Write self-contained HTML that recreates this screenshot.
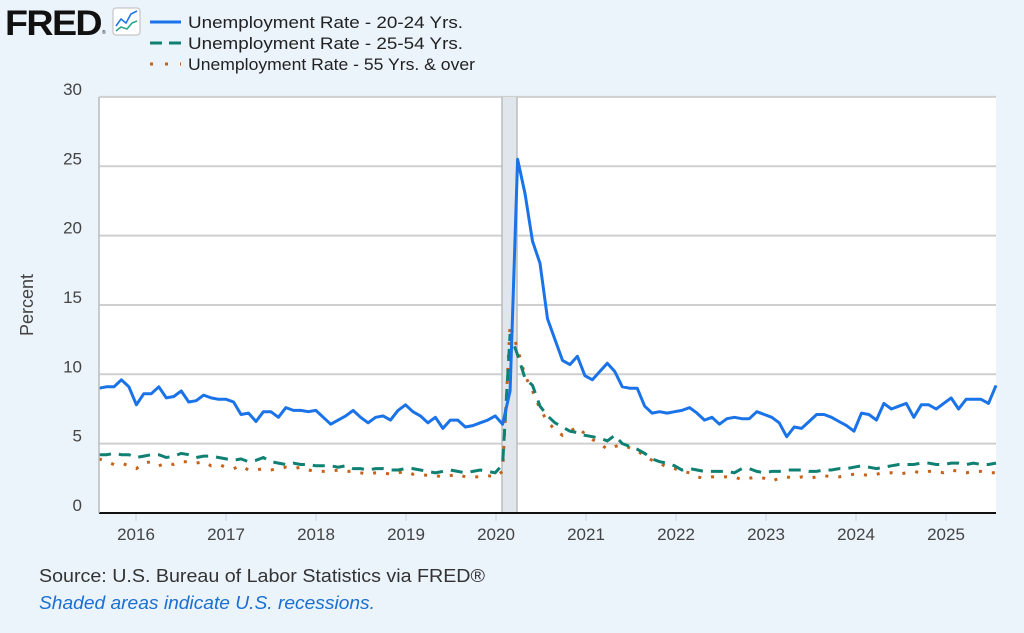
<!DOCTYPE html>
<html><head><meta charset="utf-8"><style>
html,body{margin:0;padding:0;background:#ebf3fb;}
body{width:1024px;height:633px;overflow:hidden;font-family:"Liberation Sans",sans-serif;}
</style></head><body>
<svg id="s" width="1024" height="633" xmlns="http://www.w3.org/2000/svg" style="position:absolute;left:0;top:0">
<text x="5" y="35" font-size="35" font-weight="bold" fill="#111" letter-spacing="-1.5" textLength="96" lengthAdjust="spacingAndGlyphs">FRED</text>
<text x="102" y="34" font-size="5" fill="#111">®</text>
<rect x="113" y="8" width="27" height="27" rx="3" fill="#fff" stroke="#bbb"/>
<polyline points="116,26 121,19 126,23 131,14 137,11" fill="none" stroke="#1f77e8" stroke-width="1.6"/>
<polyline points="116,31 121,27 127,29 132,23 137,21" fill="none" stroke="#2aa68a" stroke-width="1.6"/>
<line x1="150" y1="22" x2="181" y2="22" stroke="#1a73e8" stroke-width="3"/>
<line x1="150" y1="43" x2="181" y2="43" stroke="#0f8072" stroke-width="3" stroke-dasharray="12,7"/>
<line x1="150" y1="64" x2="181" y2="64" stroke="#c5621a" stroke-width="3" stroke-dasharray="3,12"/>
<g font-size="16.5" fill="#222" font-weight="500"><text x="188" y="28" textLength="275" lengthAdjust="spacingAndGlyphs">Unemployment Rate - 20-24 Yrs.</text>
<text x="188" y="49" textLength="275" lengthAdjust="spacingAndGlyphs">Unemployment Rate - 25-54 Yrs.</text>
<text x="188" y="70" textLength="287" lengthAdjust="spacingAndGlyphs">Unemployment Rate - 55 Yrs. &amp; over</text></g>
<rect x="99" y="97" width="897" height="416" fill="#fff"/>
<g id="grid"></g>
<rect x="502" y="97" width="15" height="416" fill="#e1e6ec"/>
<line x1="502" y1="97" x2="502" y2="513" stroke="#bbb" stroke-width="1.5"/>
<line x1="517" y1="97" x2="517" y2="513" stroke="#bbb" stroke-width="1.5"/>
<g id="lines"></g>
<line x1="99" y1="513" x2="996" y2="513" stroke="#111" stroke-width="2"/>
<line x1="99" y1="97" x2="99" y2="513" stroke="#bbb" stroke-width="1.5"/>
<text transform="translate(33,305) rotate(-90)" text-anchor="middle" font-size="18" fill="#444">Percent</text>
<text x="39" y="582" font-size="18" fill="#333" textLength="446" lengthAdjust="spacingAndGlyphs">Source: U.S. Bureau of Labor Statistics via FRED®</text>
<text x="39" y="609" font-size="18" fill="#1a6fd0" font-style="italic" textLength="336" lengthAdjust="spacingAndGlyphs">Shaded areas indicate U.S. recessions.</text>
</svg>
<script>
var NS="http://www.w3.org/2000/svg";
function el(p,t,a,txt){var e=document.createElementNS(NS,t);for(var k in a)e.setAttribute(k,a[k]);if(txt!=null)e.textContent=txt;p.appendChild(e);return e;}
var g=document.getElementById('grid'),L=document.getElementById('lines');
function Y(v){return 513-v*13.87;}
for(var v=0;v<=30;v+=5){if(v>0)el(g,'line',{x1:99,x2:996,y1:Y(v),y2:Y(v),stroke:'#cfcfcf','stroke-width':2});
el(g,'text',{x:82,y:Y(v)-2,'text-anchor':'end','font-size':17,fill:'#444'},v);}
for(var yr=2016;yr<=2025;yr++){var x=136+(yr-2016)*90;el(g,'line',{x1:x,x2:x,y1:513,y2:521,stroke:'#c8d4e0'});
el(g,'text',{x:x,y:540,'text-anchor':'middle','font-size':17,fill:'#444'},yr);}
var a=[9.0,9.1,9.1,9.6,9.1,7.8,8.6,8.6,9.1,8.3,8.4,8.8,8.0,8.1,8.5,8.3,8.2,8.2,8.0,7.1,7.2,6.6,7.3,7.3,6.9,7.6,7.4,7.4,7.3,7.4,6.9,6.4,6.7,7.0,7.4,6.9,6.5,6.9,7.0,6.7,7.4,7.8,7.3,7.0,6.5,6.9,6.1,6.7,6.7,6.2,6.3,6.5,6.7,7.0,6.4,8.8,25.5,23.0,19.6,18.0,14.0,12.5,11.0,10.7,11.3,9.9,9.6,10.2,10.8,10.2,9.1,9.0,9.0,7.7,7.2,7.3,7.2,7.3,7.4,7.6,7.2,6.7,6.9,6.4,6.8,6.9,6.8,6.8,7.3,7.1,6.9,6.5,5.5,6.2,6.1,6.6,7.1,7.1,6.9,6.6,6.3,5.9,7.2,7.1,6.7,7.9,7.5,7.7,7.9,6.9,7.8,7.8,7.5,7.9,8.3,7.5,8.2,8.2,8.2,7.9,9.2];
var b=[4.2,4.2,4.3,4.2,4.2,4.0,4.1,4.2,4.2,4.0,4.1,4.3,4.2,4.0,4.1,4.1,4.0,3.9,3.8,3.9,3.7,3.8,4.0,3.7,3.6,3.5,3.6,3.5,3.5,3.4,3.4,3.4,3.3,3.4,3.2,3.2,3.1,3.2,3.2,3.1,3.1,3.2,3.2,3.1,3.0,2.9,3.0,3.1,3.0,2.9,3.0,3.1,3.0,2.9,3.5,12.9,11.4,9.7,9.2,7.7,7.0,6.5,6.2,5.9,5.8,5.6,5.5,5.4,5.2,5.6,5.0,4.8,4.6,4.3,3.9,3.7,3.6,3.4,3.1,3.2,3.1,3.0,3.0,3.0,3.0,2.9,3.2,3.2,3.0,2.9,3.0,3.0,3.1,3.1,3.1,3.0,3.0,3.1,3.1,3.2,3.2,3.3,3.4,3.3,3.2,3.3,3.4,3.5,3.5,3.5,3.6,3.6,3.5,3.5,3.6,3.6,3.5,3.6,3.5,3.5,3.6];
var c=[3.9,3.7,3.5,3.6,3.4,3.2,3.6,3.7,3.4,3.6,3.5,3.7,3.7,3.6,3.7,3.4,3.5,3.3,3.2,3.4,3.1,3.1,3.2,3.1,3.2,3.3,3.2,3.3,3.1,3.0,3.0,3.0,3.1,3.0,3.0,2.9,2.8,2.9,2.9,2.8,2.9,3.0,2.8,2.8,2.7,2.7,2.6,2.7,2.8,2.6,2.6,2.6,2.7,2.6,3.0,13.6,11.8,9.9,8.8,7.5,6.6,6.0,5.6,5.9,6.2,5.7,5.3,5.0,4.6,4.8,4.9,4.7,4.5,4.1,3.8,3.6,3.3,3.2,3.0,2.9,2.6,2.5,2.6,2.6,2.6,2.6,2.4,2.5,2.6,2.5,2.3,2.5,2.6,2.5,2.6,2.5,2.6,2.7,2.6,2.6,2.7,2.8,2.8,2.7,2.8,2.9,2.9,2.8,2.9,3.0,2.9,3.0,3.0,2.9,3.1,3.0,2.9,3.0,3.0,2.9,2.9];
function pts(d){return d.map(function(v,i){return (99+i*897/120).toFixed(1)+','+Y(v).toFixed(1);}).join(' ');}
el(L,'polyline',{points:pts(c),fill:'none',stroke:'#c5621a','stroke-width':3,'stroke-dasharray':'3,10'});
el(L,'polyline',{points:pts(b),fill:'none',stroke:'#0f8072','stroke-width':3,'stroke-dasharray':'12,8'});
el(L,'polyline',{points:pts(a),fill:'none',stroke:'#1a73e8','stroke-width':3,'stroke-linejoin':'round'});
</script>
</body></html>
